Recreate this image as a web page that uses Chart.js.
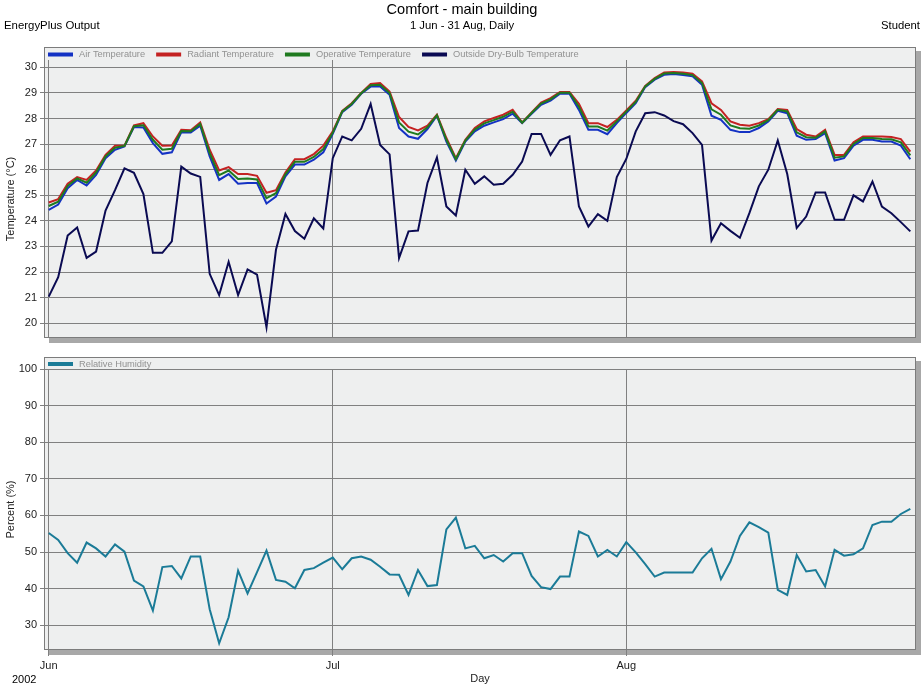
<!DOCTYPE html>
<html>
<head>
<meta charset="utf-8">
<script src="https://cdn.jsdelivr.net/npm/chart.js@4.4.0/dist/chart.umd.min.js"></script>
<style>
  body { margin: 0; background: #fff; font-family: "Liberation Sans", Arial, sans-serif; }
  #wrap { position: relative; width: 924px; height: 690px; overflow: hidden; }
  canvas { position: absolute; left: 0; }
  .t { position: absolute; white-space: nowrap; color: #000; }
</style>
</head>
<body>
<div id="wrap">
  <canvas id="tempChart" width="924" height="345" style="top:0"></canvas>
  <canvas id="rhChart" width="924" height="345" style="top:345px"></canvas>
  <div class="t" style="left:0;width:924px;text-align:center;top:1px;font-size:14.6px">Comfort - main building</div>
  <div class="t" style="left:0;width:924px;text-align:center;top:19px;font-size:11.3px">1 Jun - 31 Aug, Daily</div>
  <div class="t" style="left:4px;top:19px;font-size:11.4px">EnergyPlus Output</div>
  <div class="t" style="right:4px;top:19px;font-size:11.3px">Student</div>
  <div class="t" style="left:12px;top:673px;font-size:11px">2002</div>
</div>
<script>
// Daily values, 1 Jun - 31 Aug 2002 (92 days)
const airTemp = [
  24.43, 24.64, 25.28, 25.60, 25.38, 25.80, 26.45, 26.78, 26.91, 27.67,
  27.65, 27.04, 26.62, 26.68, 27.46, 27.46, 27.72, 26.52, 25.60, 25.83,
  25.45, 25.48, 25.48, 24.68, 24.95, 25.74, 26.20, 26.20, 26.39, 26.68,
  27.40, 28.25, 28.54, 28.97, 29.25, 29.25, 28.93, 27.63, 27.30, 27.21,
  27.59, 28.11, 27.10, 26.36, 27.10, 27.50, 27.72, 27.85, 27.98, 28.19,
  27.82, 28.19, 28.54, 28.70, 28.97, 28.97, 28.34, 27.56, 27.56, 27.39,
  27.82, 28.22, 28.60, 29.23, 29.52, 29.71, 29.74, 29.70, 29.65, 29.32,
  28.11, 27.95, 27.56, 27.47, 27.47, 27.63, 27.89, 28.30, 28.21, 27.33,
  27.17, 27.20, 27.43, 26.36, 26.45, 26.94, 27.17, 27.17, 27.10, 27.10,
  26.94, 26.41
];
const radiantTemp = [
  24.72, 24.85, 25.45, 25.71, 25.60, 25.97, 26.58, 26.94, 26.94, 27.73,
  27.82, 27.30, 26.94, 26.95, 27.56, 27.54, 27.85, 26.78, 25.97, 26.10,
  25.83, 25.83, 25.76, 25.10, 25.20, 25.89, 26.41, 26.41, 26.61, 26.94,
  27.50, 28.30, 28.60, 29.00, 29.35, 29.39, 29.06, 28.06, 27.67, 27.54,
  27.72, 28.15, 27.24, 26.45, 27.17, 27.63, 27.89, 28.02, 28.15, 28.34,
  27.85, 28.24, 28.63, 28.80, 29.04, 29.04, 28.58, 27.82, 27.82, 27.67,
  27.95, 28.32, 28.70, 29.28, 29.58, 29.80, 29.82, 29.80, 29.75, 29.45,
  28.60, 28.34, 27.89, 27.76, 27.72, 27.82, 27.98, 28.37, 28.34, 27.59,
  27.37, 27.30, 27.56, 26.58, 26.58, 27.07, 27.30, 27.30, 27.30, 27.28,
  27.20, 26.71
];
const operativeTemp = [
  24.58, 24.75, 25.37, 25.66, 25.49, 25.89, 26.52, 26.86, 26.93, 27.70,
  27.74, 27.17, 26.78, 26.82, 27.51, 27.50, 27.79, 26.65, 25.79, 25.97,
  25.64, 25.66, 25.62, 24.89, 25.08, 25.82, 26.31, 26.31, 26.50, 26.81,
  27.45, 28.28, 28.57, 28.99, 29.30, 29.32, 29.00, 27.85, 27.49, 27.38,
  27.66, 28.13, 27.17, 26.41, 27.14, 27.57, 27.81, 27.94, 28.07, 28.27,
  27.84, 28.22, 28.59, 28.75, 29.01, 29.01, 28.46, 27.69, 27.69, 27.53,
  27.89, 28.27, 28.65, 29.26, 29.55, 29.76, 29.78, 29.75, 29.70, 29.39,
  28.36, 28.15, 27.73, 27.62, 27.60, 27.73, 27.94, 28.34, 28.28, 27.46,
  27.27, 27.25, 27.50, 26.47, 26.52, 27.01, 27.24, 27.24, 27.20, 27.19,
  27.07, 26.56
];
const outsideTemp = [
  21.04, 21.80, 23.43, 23.74, 22.55, 22.80, 24.40, 25.20, 26.05, 25.88,
  25.05, 22.75, 22.75, 23.20, 26.12, 25.85, 25.72, 21.93, 21.10, 22.40,
  21.10, 22.10, 21.90, 19.84, 22.87, 24.27, 23.60, 23.30, 24.10, 23.70,
  26.45, 27.30, 27.15, 27.60, 28.57, 26.97, 26.60, 22.54, 23.59, 23.62,
  25.48, 26.48, 24.56, 24.21, 26.00, 25.45, 25.74, 25.41, 25.45, 25.80,
  26.32, 27.40, 27.40, 26.58, 27.15, 27.30, 24.56, 23.78, 24.26, 24.00,
  25.71, 26.42, 27.50, 28.21, 28.25, 28.12, 27.90, 27.78, 27.43, 26.97,
  23.23, 23.91, 23.61, 23.34, 24.30, 25.35, 26.00, 27.14, 25.83, 23.72,
  24.17, 25.11, 25.11, 24.04, 24.04, 25.00, 24.76, 25.54, 24.56, 24.30,
  23.95, 23.59
];
const relHumidity = [
  55.2, 53.3, 49.7, 47.1, 52.6, 51.0, 48.8, 52.1, 50.1, 42.2,
  40.6, 34.0, 45.9, 46.2, 42.8, 48.8, 48.8, 34.4, 25.1, 32.2,
  44.9, 38.7, 44.5, 50.4, 42.4, 41.9, 40.1, 45.1, 45.6, 47.1,
  48.5, 45.3, 48.3, 48.8, 47.9, 46.0, 43.9, 43.8, 38.3, 45.1,
  40.7, 41.0, 56.2, 59.4, 51.0, 51.7, 48.3, 49.2, 47.4, 49.7,
  49.7, 43.5, 40.4, 39.9, 43.3, 43.3, 55.6, 54.4, 48.8, 50.6,
  48.8, 52.7, 49.9, 46.7, 43.3, 44.4, 44.4, 44.4, 44.4, 48.3,
  50.9, 42.6, 47.4, 54.4, 58.1, 56.8, 55.3, 39.7, 38.3, 49.2,
  44.7, 45.1, 40.6, 50.6, 49.0, 49.4, 51.0, 57.4, 58.3, 58.3,
  60.4, 61.8
];

const monthTicks = [0, 30, 61];          // day index of 1 Jun, 1 Jul, 1 Aug
const monthLabels = ['Jun', 'Jul', 'Aug'];
const tempTicks = [20, 21, 22, 23, 24, 25, 26, 27, 28, 29, 30];
const rhTicks = [30, 40, 50, 60, 70, 80, 90, 100];

Chart.defaults.font.family = '"Liberation Sans", Arial, sans-serif';
Chart.defaults.font.size = 11;
Chart.defaults.color = '#222';

const toPoints = arr => arr.map((v, i) => ({ x: i, y: v }));

// framed panel with drop shadow and the legend inside the top strip
const panelBox = {
  id: 'panelBox',
  beforeDraw(chart, args, opts) {
    const { ctx, chartArea: a } = chart;
    const top = a.top - opts.strip;
    ctx.save();
    ctx.fillStyle = '#a8a8a8';
    ctx.fillRect(a.right, top + 4, 5, a.bottom - top + 1);
    ctx.fillRect(a.left + 5, a.bottom, a.right - a.left, 5);
    ctx.fillStyle = '#eeefef';
    ctx.fillRect(a.left, top, a.right - a.left, a.bottom - top);
    ctx.restore();
  },
  afterDraw(chart, args, opts) {
    const { ctx, chartArea: a } = chart;
    const top = a.top - opts.strip;
    ctx.save();
    ctx.strokeStyle = '#7c7c7c';
    ctx.lineWidth = 1;
    ctx.strokeRect(a.left + 0.5, top + 0.5, a.right - a.left - 1, a.bottom - top - 1);

    // legend
    ctx.font = '9.3px "Liberation Sans", Arial, sans-serif';
    ctx.textBaseline = 'middle';
    let x = a.left + 4;
    const y = top + opts.strip / 2 + 1;
    chart.data.datasets.forEach(ds => {
      ctx.strokeStyle = ds.borderColor;
      ctx.lineWidth = 4;
      ctx.beginPath();
      ctx.moveTo(x, y);
      ctx.lineTo(x + 25, y);
      ctx.stroke();
      x += 31;
      ctx.fillStyle = '#929292';
      ctx.fillText(ds.label, x, y);
      x += ctx.measureText(ds.label).width + 11;
    });
    ctx.restore();
  }
};

function makeOptions(cfg) {
  return {
    responsive: false,
    animation: false,
    layout: { padding: cfg.padding },
    plugins: {
      legend: { display: false },
      tooltip: { enabled: false },
      panelBox: { strip: cfg.strip }
    },
    elements: { point: { radius: 0 }, line: { borderWidth: 2, tension: 0 } },
    scales: {
      x: {
        type: 'linear',
        min: -0.5,
        max: 91.6,
        afterBuildTicks: s => { s.ticks = monthTicks.map(v => ({ value: v })); },
        afterFit: s => { s.height = cfg.xHeight; s.paddingLeft = 0; s.paddingRight = 0; },
        border: { display: false },
        grid: { color: '#808080', drawTicks: cfg.showX, tickLength: 6 },
        ticks: {
          display: cfg.showX,
          autoSkip: false,
          maxRotation: 0,
          padding: 3,
          color: '#222',
          callback: v => monthLabels[monthTicks.indexOf(v)]
        },
        title: {
          display: cfg.showX,
          text: 'Day',
          color: '#222',
          font: { size: 11 },
          padding: { top: 4, bottom: 4 }
        }
      },
      y: {
        min: cfg.yMin,
        max: cfg.yMax,
        afterBuildTicks: s => { s.ticks = cfg.yTicks.map(v => ({ value: v })); },
        afterFit: s => { s.width = 44; s.paddingTop = 0; s.paddingBottom = 0; },
        border: { display: false },
        grid: { color: '#808080', tickLength: 4 },
        ticks: { padding: 3, color: '#222' },
        title: {
          display: true,
          text: cfg.yTitle,
          color: '#222',
          font: { size: 11 },
          padding: { top: 4, bottom: 4 }
        }
      }
    }
  };
}

new Chart(document.getElementById('tempChart'), {
  type: 'line',
  data: {
    datasets: [
      { label: 'Air Temperature', data: toPoints(airTemp), borderColor: '#1432c4', order: 4 },
      { label: 'Radiant Temperature', data: toPoints(radiantTemp), borderColor: '#c42222', order: 3 },
      { label: 'Operative Temperature', data: toPoints(operativeTemp), borderColor: '#1f7a1f', order: 2 },
      { label: 'Outside Dry-Bulb Temperature', data: toPoints(outsideTemp), borderColor: '#0a0a52', order: 1 }
    ]
  },
  options: makeOptions({
    padding: { top: 60, right: 8, bottom: 7, left: 0 },
    strip: 13,
    xHeight: 0,
    showX: false,
    yMin: 19.42,
    yMax: 30.29,
    yTicks: tempTicks,
    yTitle: 'Temperature (°C)'
  }),
  plugins: [panelBox]
});

new Chart(document.getElementById('rhChart'), {
  type: 'line',
  data: {
    datasets: [
      { label: 'Relative Humidity', data: toPoints(relHumidity), borderColor: '#1b7b97' }
    ]
  },
  options: makeOptions({
    padding: { top: 24, right: 8, bottom: 0, left: 0 },
    strip: 12,
    xHeight: 40,
    showX: true,
    yMin: 23.25,
    yMax: 100,
    yTicks: rhTicks,
    yTitle: 'Percent (%)'
  }),
  plugins: [panelBox]
});
</script>
</body>
</html>
